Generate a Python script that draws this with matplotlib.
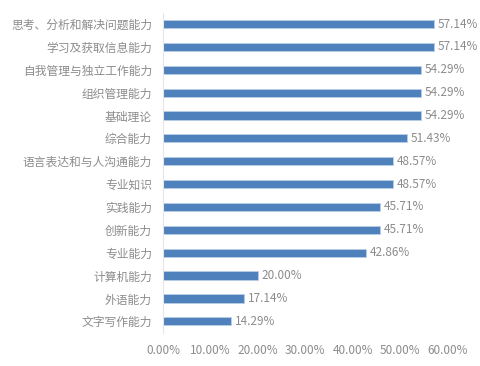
import matplotlib
matplotlib.use("Agg")
import matplotlib.pyplot as plt
from matplotlib.ticker import FuncFormatter

plt.rcParams['font.family'] = ['Noto Sans CJK SC', 'DejaVu Sans']

categories = ["思考、分析和解决问题能力", "学习及获取信息能力", "自我管理与独立工作能力",
              "组织管理能力", "基础理论", "综合能力", "语言表达和与人沟通能力",
              "专业知识", "实践能力", "创新能力", "专业能力", "计算机能力",
              "外语能力", "文字写作能力"]
values = [57.14, 57.14, 54.29, 54.29, 54.29, 51.43, 48.57, 48.57, 45.71, 45.71,
          42.86, 20.00, 17.14, 14.29]
xticks = [0, 10, 20, 30, 40, 50, 60]

fig = plt.figure(figsize=(4.8, 3.66), dpi=100)
ax = fig.add_axes([0.3396, 0.091, 0.5929, 0.8746])

y = list(range(len(categories)))
ax.barh(y, values, height=0.36, color="#4F81BD", edgecolor="#B9CDE5", linewidth=0.6)
ax.set_ylim(len(categories) - 0.5, -0.5)
ax.set_xlim(0, 60)
ax.set_yticks(y)
ax.set_yticklabels(categories, fontsize=8.5, color="#8C8C8C")
ax.set_xticks(xticks)
ax.xaxis.set_major_formatter(FuncFormatter(lambda v, p: f"{v:.2f}%"))
ax.tick_params(axis='x', labelsize=8.5, colors="#8C8C8C", length=0, pad=8)
ax.tick_params(axis='y', length=0, pad=8)
for s in ['top', 'right', 'bottom']:
    ax.spines[s].set_visible(False)
ax.spines['left'].set_color("#E6E6E6")
ax.spines['left'].set_linewidth(0.8)

for yi, v in zip(y, values):
    ax.text(v + 0.8, yi, f"{v:.2f}%", va='center', ha='left', fontsize=8.5, color="#8C8C8C")

fig.savefig("out.png", dpi=100)
